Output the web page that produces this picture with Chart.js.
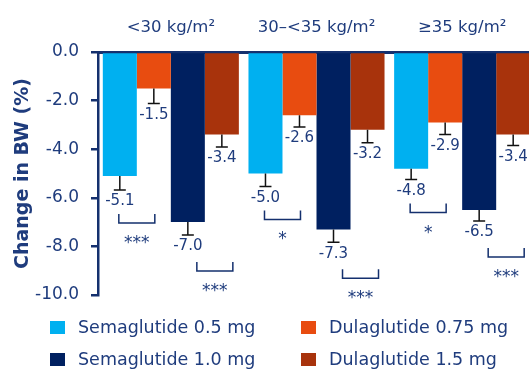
<!DOCTYPE html>
<html>
<head>
<meta charset="utf-8">
<script src="https://cdn.jsdelivr.net/npm/chart.js@4/dist/chart.umd.min.js"></script>
<style>
  html, body { margin: 0; padding: 0; background: #ffffff; overflow: hidden; }
  #wrap { width: 535px; height: 371px; }
</style>
</head>
<body>
<div id="wrap"><canvas id="c" width="535" height="371"></canvas></div>
<script>
// BMI subgroups
const categories = ['<30 kg/m²', '30–<35 kg/m²', '≥35 kg/m²'];

// Mean change in body weight (%) per arm
const sema05 = [-5.1, -5.0, -4.8];
const dula075 = [-1.5, -2.6, -2.9];
const sema10 = [-7.0, -7.3, -6.5];
const dula15 = [-3.4, -3.2, -3.4];

// Standard errors per arm
const sema05Err = [0.58, 0.53, 0.45];
const dula075Err = [0.62, 0.49, 0.49];
const sema10Err = [0.53, 0.53, 0.45];
const dula15Err = [0.51, 0.53, 0.45];

// Significance of semaglutide vs dulaglutide comparisons
const sigLow = ['***', '*', '*'];    // 0.5 mg vs 0.75 mg
const sigHigh = ['***', '***', '***']; // 1.0 mg vs 1.5 mg

const yTicks = [0, -2, -4, -6, -8, -10];

const NAVY_TEXT = '#1f3c7d';
const AXIS = '#14306e';
const FONT = "'DejaVu Sans', Verdana, sans-serif";

const datasets = [
  { label: 'Semaglutide 0.5 mg', data: sema05, err: sema05Err, backgroundColor: '#00B0F0' },
  { label: 'Dulaglutide 0.75 mg', data: dula075, err: dula075Err, backgroundColor: '#E84C10' },
  { label: 'Semaglutide 1.0 mg', data: sema10, err: sema10Err, backgroundColor: '#002060' },
  { label: 'Dulaglutide 1.5 mg', data: dula15, err: dula15Err, backgroundColor: '#A8330C' }
];

// Error bars, value labels and significance brackets
const annotations = {
  id: 'annotations',
  afterDatasetsDraw(chart) {
    const ctx = chart.ctx;
    const y = chart.scales.y;
    const caps = chart.data.datasets.map(() => []);
    ctx.save();
    chart.data.datasets.forEach((ds, di) => {
      const meta = chart.getDatasetMeta(di);
      meta.data.forEach((bar, i) => {
        const v = ds.data[i];
        const yEnd = y.getPixelForValue(v);
        const yCap = y.getPixelForValue(v - ds.err[i]);
        caps[di][i] = yCap;
        ctx.strokeStyle = '#111111';
        ctx.lineWidth = 1.5;
        ctx.beginPath();
        ctx.moveTo(bar.x, yEnd);
        ctx.lineTo(bar.x, yCap);
        ctx.moveTo(bar.x - 6, yCap);
        ctx.lineTo(bar.x + 6, yCap);
        ctx.stroke();
        ctx.fillStyle = NAVY_TEXT;
        ctx.font = '15px ' + FONT;
        ctx.textAlign = 'center';
        ctx.textBaseline = 'top';
        ctx.fillText(v.toFixed(1), bar.x, yCap + 4);
      });
    });

    const drawBracket = (cx, top, stars) => {
      const half = 18;
      ctx.strokeStyle = AXIS;
      ctx.lineWidth = 1.5;
      ctx.beginPath();
      ctx.moveTo(cx - half, top);
      ctx.lineTo(cx - half, top + 9);
      ctx.lineTo(cx + half, top + 9);
      ctx.lineTo(cx + half, top);
      ctx.stroke();
      ctx.fillStyle = NAVY_TEXT;
      ctx.font = '17px ' + FONT;
      ctx.textAlign = 'center';
      ctx.textBaseline = 'alphabetic';
      ctx.fillText(stars, cx, top + 34);
    };

    categories.forEach((c, i) => {
      const b0 = chart.getDatasetMeta(0).data[i];
      const b1 = chart.getDatasetMeta(1).data[i];
      const b2 = chart.getDatasetMeta(2).data[i];
      const b3 = chart.getDatasetMeta(3).data[i];
      drawBracket((b0.x + b1.x) / 2, caps[0][i] + 24, sigLow[i]);
      drawBracket((b2.x + b3.x) / 2 + 10, caps[2][i] + 27, sigHigh[i]);
    });
    ctx.restore();
  }
};

// Two-column legend beneath the plot
const gridLegend = {
  id: 'gridLegend',
  afterDraw(chart) {
    const ctx = chart.ctx;
    const cols = [50, 301];
    const rows = [327.5, 359.5];
    ctx.save();
    ctx.font = '17.5px ' + FONT;
    ctx.textBaseline = 'middle';
    ctx.textAlign = 'left';
    chart.data.datasets.forEach((ds, i) => {
      const cx = cols[i % 2];
      const cy = rows[Math.floor(i / 2)];
      ctx.fillStyle = ds.backgroundColor;
      ctx.fillRect(cx, cy - 6.5, 15, 13);
      ctx.fillStyle = NAVY_TEXT;
      ctx.fillText(ds.label, cx + 28, cy + 1);
    });
    ctx.restore();
  }
};

new Chart(document.getElementById('c'), {
  type: 'bar',
  data: { labels: categories, datasets },
  options: {
    responsive: false,
    animation: false,
    layout: { padding: { left: 0, right: 0, top: 0, bottom: 76 } },
    datasets: { bar: { categoryPercentage: 0.934, barPercentage: 1.0, borderWidth: 0 } },
    plugins: { legend: { display: false }, tooltip: { enabled: false } },
    scales: {
      x: {
        position: 'top',
        grid: { display: false },
        border: { display: true, color: AXIS, width: 3 },
        ticks: { color: NAVY_TEXT, font: { family: FONT, size: 16.5 }, padding: 6, maxRotation: 0 },
        afterFit(scale) { scale.height = 52; }
      },
      y: {
        min: -10,
        max: 0,
        afterBuildTicks(scale) { scale.ticks = yTicks.map(v => ({ value: v })); },
        grid: { display: true, drawOnChartArea: false, drawTicks: true, tickLength: 7, color: AXIS, lineWidth: 2.5 },
        border: { display: true, color: AXIS, width: 2.5 },
        ticks: {
          color: NAVY_TEXT,
          font: { family: FONT, size: 17 },
          padding: 12,
          callback: v => Number(v).toFixed(1)
        },
        title: {
          display: true,
          text: 'Change in BW (%)',
          color: NAVY_TEXT,
          font: { family: FONT, size: 19, weight: 'bold' },
          padding: { top: 12, bottom: 0 }
        },
        afterFit(scale) { scale.width = 98; }
      }
    }
  },
  plugins: [annotations, gridLegend]
});
</script>
</body>
</html>
